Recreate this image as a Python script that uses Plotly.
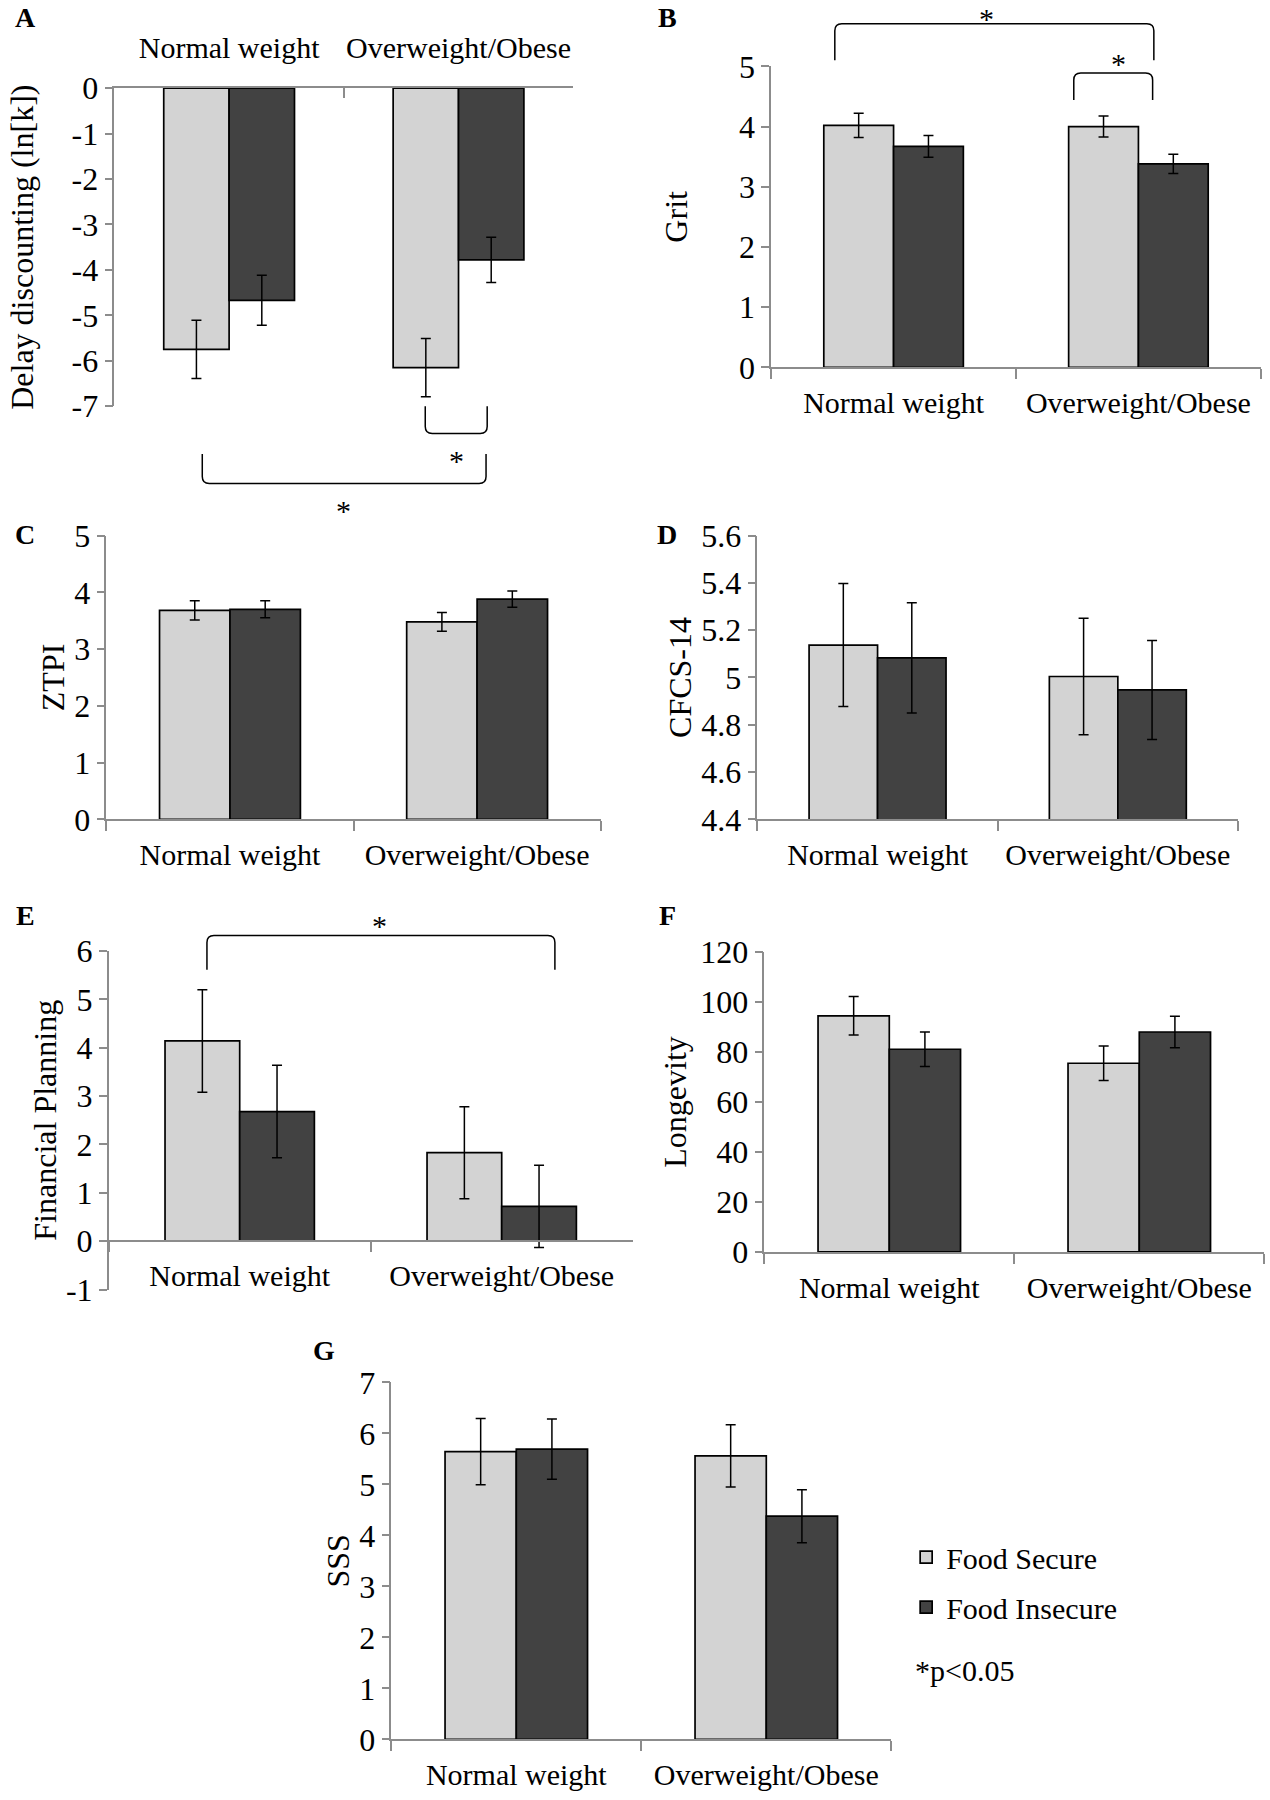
import plotly.graph_objects as go

# ---------------- data ----------------
categories = ["Normal weight", "Overweight/Obese"]
series_names = ["Food Secure", "Food Insecure"]

delay_secure = [-5.75, -6.15]
delay_secure_err = [0.64, 0.64]
delay_insecure = [-4.67, -3.78]
delay_insecure_err = [0.55, 0.50]
delay_tick_vals = [0, -1, -2, -3, -4, -5, -6, -7]
delay_tick_text = ["0", "-1", "-2", "-3", "-4", "-5", "-6", "-7"]

grit_secure = [4.02, 4.00]
grit_secure_err = [0.20, 0.175]
grit_insecure = [3.67, 3.38]
grit_insecure_err = [0.18, 0.16]

ztpi_secure = [3.68, 3.48]
ztpi_secure_err = [0.17, 0.165]
ztpi_insecure = [3.70, 3.88]
ztpi_insecure_err = [0.15, 0.145]

cfcs_secure = [5.137, 5.004]
cfcs_secure_err = [0.26, 0.246]
cfcs_insecure = [5.083, 4.947]
cfcs_insecure_err = [0.233, 0.209]

fin_secure = [4.14, 1.83]
fin_secure_err = [1.06, 0.95]
fin_insecure = [2.68, 0.72]
fin_insecure_err = [0.955, 0.85]
fin_tick_vals = [-1, 0, 1, 2, 3, 4, 5, 6]
fin_tick_text = ["-1", "0", "1", "2", "3", "4", "5", "6"]

long_secure = [94.5, 75.5]
long_secure_err = [7.7, 6.9]
long_insecure = [81.1, 88.0]
long_insecure_err = [6.9, 6.3]

sss_secure = [5.64, 5.56]
sss_secure_err = [0.65, 0.61]
sss_insecure = [5.69, 4.375]
sss_insecure_err = [0.59, 0.52]

# ---------------- style ----------------
FONT = "Liberation Serif, Times New Roman, serif"
LIGHT = "#d3d3d3"
DARK = "#424242"
AXIS = "#8c8c8c"
CAT_SIZE = 30
NUM_SIZE = 32
TITLE_SIZE = 32
W, H = 1270, 1800

def px(p):      # layout helper (1110-wide sketch grid) -> paper x
    return p / 1110.0

def py(p):      # (1573-tall sketch grid) -> paper y
    return 1 - p / 1573.0

panels = [
    dict(letter="A", sec=delay_secure, sec_e=delay_secure_err, ins=delay_insecure, ins_e=delay_insecure_err,
         title="Delay discounting (ln[k])", rng=[-7, 0], tv=delay_tick_vals, tt=delay_tick_text,
         xd=[px(100), px(501)], yd=[py(355), py(77)], top=True, lpos=(22, 15), standoff=28),
    dict(letter="B", sec=grit_secure, sec_e=grit_secure_err, ins=grit_insecure, ins_e=grit_insecure_err,
         title="Grit", rng=[0, 5], dtick=1,
         xd=[px(674), px(1102)], yd=[py(321), py(58)], lpos=(583, 15), standoff=42),
    dict(letter="C", sec=ztpi_secure, sec_e=ztpi_secure_err, ins=ztpi_insecure, ins_e=ztpi_insecure_err,
         title="ZTPI", rng=[0, 5], dtick=1,
         xd=[px(93), px(525)], yd=[py(716), py(468)], lpos=(22, 467), standoff=0),
    dict(letter="D", sec=cfcs_secure, sec_e=cfcs_secure_err, ins=cfcs_insecure, ins_e=cfcs_insecure_err,
         title="CFCS-14", rng=[4.4, 5.6], dtick=0.2,
         xd=[px(662), px(1082)], yd=[py(716), py(468)], lpos=(583, 467), standoff=0),
    dict(letter="E", sec=fin_secure, sec_e=fin_secure_err, ins=fin_insecure, ins_e=fin_insecure_err,
         title="Financial Planning", rng=[-1, 6], tv=fin_tick_vals, tt=fin_tick_text,
         xd=[px(95), px(553)], yd=[py(1127), py(831)], xat0=True, lpos=(22, 800), standoff=0),
    dict(letter="F", sec=long_secure, sec_e=long_secure_err, ins=long_insecure, ins_e=long_insecure_err,
         title="Longevity", rng=[0, 120], dtick=20,
         xd=[px(668), px(1105)], yd=[py(1094), py(832)], lpos=(583, 800), standoff=4),
    dict(letter="G", sec=sss_secure, sec_e=sss_secure_err, ins=sss_insecure, ins_e=sss_insecure_err,
         title="SSS", rng=[0, 7], dtick=1,
         xd=[px(342), px(779)], yd=[py(1520), py(1208)], lpos=(283, 1180), standoff=0),
]

fig = go.Figure()
layout = {}
annotations = []
shapes = []

def yp(p, v):
    d, r = p["yd"], p["rng"]
    return d[0] + (v - r[0]) / (r[1] - r[0]) * (d[1] - d[0])

def xp(p, c):
    d = p["xd"]
    return d[0] + (c + 0.5) / 2.0 * (d[1] - d[0])

for i, p in enumerate(panels):
    n = "" if i == 0 else str(i + 1)
    xa, ya = "x" + n, "y" + n
    for name, vals, errs, col in [(series_names[0], p["sec"], p["sec_e"], LIGHT),
                                  (series_names[1], p["ins"], p["ins_e"], DARK)]:
        fig.add_trace(go.Bar(
            x=categories, y=vals, name=name, xaxis=xa, yaxis=ya,
            marker=dict(color=col, line=dict(color="black", width=1.7)),
            error_y=dict(type="data", array=errs, visible=True, color="black", thickness=1.5, width=5),
            offsetgroup=name, legendgroup=name,
            showlegend=(p["letter"] == "G"),
        ))
    xaxis = dict(domain=p["xd"], anchor=ya, type="category", categoryorder="array",
                 categoryarray=categories, range=[-0.5, 1.5], tickson="boundaries",
                 ticks="outside", ticklen=10, tickcolor=AXIS, tickwidth=1.5,
                 showline=True, linecolor=AXIS, linewidth=1.5, showgrid=False,
                 tickfont=dict(family=FONT, size=CAT_SIZE, color="black"),
                 tickangle=0, automargin=False,
                 ticklabelstandoff=8, fixedrange=True)
    if p.get("top"):
        xaxis.update(side="top", ticks="inside", ticklabelstandoff=16)
    if p.get("xat0"):
        xaxis.update(anchor="free", position=yp(p, 0))
    yaxis = dict(domain=p["yd"], anchor=xa, range=p["rng"], automargin=False,
                 ticks="outside", ticklen=8, tickcolor=AXIS, tickwidth=1.5,
                 showline=True, linecolor=AXIS, linewidth=1.5, showgrid=False, zeroline=False,
                 tickfont=dict(family=FONT, size=NUM_SIZE, color="black"),
                 title=dict(text=p["title"], font=dict(family=FONT, size=TITLE_SIZE, color="black"),
                            standoff=p["standoff"]),
                 fixedrange=True)
    if "tv" in p:
        yaxis.update(tickmode="array", tickvals=p["tv"], ticktext=p["tt"])
    else:
        yaxis.update(tick0=0, dtick=p["dtick"])
    layout["xaxis" + n] = xaxis
    layout["yaxis" + n] = yaxis
    annotations.append(dict(text="<b>%s</b>" % p["letter"], x=px(p["lpos"][0]), y=py(p["lpos"][1]),
                            xref="paper", yref="paper", showarrow=False, xanchor="center",
                            yanchor="middle", font=dict(family=FONT, size=28, color="black")))

# significance brackets (category units on x, data units on y)
RX, RY = 7.0 / W, 7.0 / H
STAR_HALF = 18.0 / H

def bracket(p, c0, c1, yleg, ybar):
    x0, x1 = xp(p, c0), xp(p, c1)
    yl, yb = yp(p, yleg), yp(p, ybar)
    s = 1 if yb > yl else -1
    path = ("M %f,%f L %f,%f Q %f,%f %f,%f L %f,%f Q %f,%f %f,%f L %f,%f" %
            (x0, yl, x0, yb - s * RY, x0, yb, x0 + RX, yb, x1 - RX, yb,
             x1, yb, x1, yb - s * RY, x1, yl))
    shapes.append(dict(type="path", path=path, xref="paper", yref="paper",
                       line=dict(color="black", width=1.5)))

def star(p, c, v):
    y, anchor = yp(p, v), "middle"
    if y + STAR_HALF > 1:          # keep the text box inside the page
        y, anchor = 1.0, "top"
    annotations.append(dict(text="*", x=xp(p, c), y=y, xref="paper", yref="paper",
                            showarrow=False, xanchor="center", yanchor=anchor,
                            font=dict(family=FONT, size=30, color="black")))

pA, pB, pE = panels[0], panels[1], panels[4]
bracket(pA, 0.855, 1.125, -7.0, -7.6)
star(pA, 0.99, -8.2)
bracket(pA, -0.117, 1.12, -8.05, -8.7)
star(pA, 0.50, -9.3)
bracket(pB, -0.24, 1.063, 5.10, 5.71)
star(pB, 0.38, 5.86)
bracket(pB, 0.736, 1.058, 4.44, 4.89)
star(pB, 0.92, 5.05)
bracket(pE, -0.125, 1.203, 5.61, 6.32)
star(pE, 0.534, 6.52)

annotations.append(dict(text="*p<0.05", x=px(798), y=py(1460), xref="paper", yref="paper",
                        showarrow=False, xanchor="left", yanchor="middle",
                        font=dict(family=FONT, size=CAT_SIZE, color="black")))

fig.update_layout(
    width=W, height=H, margin=dict(l=0, r=0, t=0, b=0, autoexpand=False),
    paper_bgcolor="white", plot_bgcolor="white",
    barmode="group", bargap=0.43, bargroupgap=0,
    font=dict(family=FONT, size=CAT_SIZE, color="black"),
    legend=dict(x=px(792), y=py(1338), xanchor="left", yanchor="top",
                font=dict(family=FONT, size=CAT_SIZE, color="black"),
                bgcolor="rgba(0,0,0,0)", tracegroupgap=8, itemwidth=30),
    annotations=annotations, shapes=shapes,
    **layout,
)

fig.write_html("out.html", config={"displayModeBar": False},
               post_script="document.body.style.margin='0';")
